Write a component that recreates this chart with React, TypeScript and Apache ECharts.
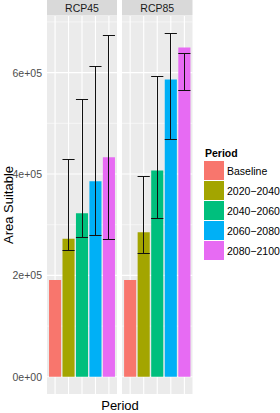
import React, { useEffect, useRef } from "react";
import * as echarts from "echarts";

const periods = ["Baseline", "2020−2040", "2040−2060", "2060−2080", "2080−2100"];
const scenarios = ["RCP45", "RCP85"];
const periodColors = ["#F8766D", "#A3A500", "#00BF7D", "#00B0F6", "#E76BF3"];

const rcp45Area = [191000, 272500, 322500, 385600, 432900];
const rcp45Lower = [null, 249000, 274000, 279000, 270500];
const rcp45Upper = [null, 429500, 547800, 613000, 674000];

const rcp85Area = [191000, 285000, 407000, 586600, 649600];
const rcp85Lower = [null, 243700, 313000, 467600, 564000];
const rcp85Upper = [null, 396000, 591700, 677800, 637800];

const yMajorTicks = [0, 200000, 400000, 600000];
const yMinorTicks = [100000, 300000, 500000, 700000];

const FONT = "'Liberation Sans', Arial, Helvetica, sans-serif";

function sci(v: number): string {
  if (v === 0) return "0e+00";
  const e = Math.floor(Math.log10(Math.abs(v)));
  const m = Math.round(v / Math.pow(10, e));
  const es = (e < 0 ? "-" : "+") + String(Math.abs(e)).padStart(2, "0");
  return `${m}e${es}`;
}

const Y_MAX_DATA = 677800;
const Y_MIN = -0.05 * Y_MAX_DATA;
const Y_MAX = 1.05 * Y_MAX_DATA;

const snap = (v: number) => Math.round(v - 0.5) + 0.5;

export default function App() {
  const ref = useRef<HTMLDivElement>(null);

  useEffect(() => {
    if (!ref.current) return;
    const chart = echarts.init(ref.current, null, { renderer: "svg" });

    const areas = [rcp45Area, rcp85Area];
    const lowers = [rcp45Lower, rcp85Lower];
    const uppers = [rcp45Upper, rcp85Upper];

    const grids = [
      { left: 47, top: 16, width: 70, height: 378 },
      { left: 122, top: 16, width: 70.5, height: 378 },
    ].map((g) => ({
      ...g,
      show: true,
      backgroundColor: "#EBEBEB",
      borderWidth: 0,
      containLabel: false,
    }));

    const xAxes = [0, 1].map((i) => ({
      type: "value",
      gridIndex: i,
      min: -0.6,
      max: periods.length - 1 + 0.6,
      show: false,
    }));

    const yAxes = [0, 1].map((i) => ({
      type: "value",
      gridIndex: i,
      min: Y_MIN,
      max: Y_MAX,
      axisLine: { show: false },
      axisTick: { show: false, customValues: yMajorTicks },
      splitLine: { show: false },
      axisLabel: {
        show: i === 0,
        customValues: yMajorTicks,
        formatter: (v: number) => sci(v),
        color: "#4D4D4D",
        fontSize: 10.5,
        fontFamily: FONT,
        margin: 5,
      },
    }));

    const series: any[] = [];

    // panel gridlines (drawn through the axes' scales)
    [0, 1].forEach((i) => {
      series.push({
        type: "custom",
        xAxisIndex: i,
        yAxisIndex: i,
        z: 1,
        silent: true,
        data: [[0, 0]],
        renderItem: (params: any, api: any) => {
          const cs = params.coordSys;
          const children: any[] = [];
          yMinorTicks.forEach((v) => {
            const y = api.coord([0, v])[1];
            children.push({
              type: "line",
              shape: { x1: cs.x, y1: y, x2: cs.x + cs.width, y2: y },
              style: { stroke: "#FFFFFF", lineWidth: 0.55 },
            });
          });
          yMajorTicks.forEach((v) => {
            const y = api.coord([0, v])[1];
            children.push({
              type: "line",
              shape: { x1: cs.x, y1: y, x2: cs.x + cs.width, y2: y },
              style: { stroke: "#FFFFFF", lineWidth: 1.1 },
            });
          });
          periods.forEach((_, k) => {
            const x = api.coord([k, 0])[0];
            children.push({
              type: "line",
              shape: { x1: x, y1: cs.y, x2: x, y2: cs.y + cs.height },
              style: { stroke: "#FFFFFF", lineWidth: 1.1 },
            });
          });
          return { type: "group", children };
        },
      });
    });

    // bars
    [0, 1].forEach((i) => {
      periods.forEach((p, k) => {
        series.push({
          type: "bar",
          name: p,
          xAxisIndex: i,
          yAxisIndex: i,
          data: [[k, areas[i][k]]],
          barWidth: 12.1,
          barGap: "-100%",
          itemStyle: { color: periodColors[k] },
          z: 2,
        });
      });
    });

    // error bars
    [0, 1].forEach((i) => {
      const data: any[] = [];
      periods.forEach((_, k) => {
        const lo = lowers[i][k];
        const hi = uppers[i][k];
        if (lo != null && hi != null) data.push([k, lo, hi]);
      });
      series.push({
        type: "custom",
        xAxisIndex: i,
        yAxisIndex: i,
        z: 3,
        silent: true,
        data,
        renderItem: (params: any, api: any) => {
          const x = api.value(0);
          const lo = api.coord([x, api.value(1)]);
          const hi = api.coord([x, api.value(2)]);
          const half = api.size([0.9, 0])[0] / 2;
          const cx = snap(lo[0]);
          const yl = snap(lo[1]);
          const yh = snap(hi[1]);
          const style = { stroke: "#111111", lineWidth: 1 };
          return {
            type: "group",
            children: [
              { type: "line", shape: { x1: cx, y1: yl, x2: cx, y2: yh }, style },
              { type: "line", shape: { x1: lo[0] - half, y1: yl, x2: lo[0] + half, y2: yl }, style },
              { type: "line", shape: { x1: hi[0] - half, y1: yh, x2: hi[0] + half, y2: yh }, style },
            ],
          };
        },
      });
    });

    const graphic: any[] = [];
    grids.forEach((g, i) => {
      graphic.push({
        type: "rect",
        shape: { x: g.left, y: 0, width: g.width, height: 15.5 },
        style: { fill: "#D9D9D9" },
        silent: true,
      });
      graphic.push({
        type: "text",
        x: g.left + g.width / 2,
        y: 8,
        style: {
          text: scenarios[i],
          fill: "#1A1A1A",
          font: `10.5px ${FONT}`,
          align: "center",
          verticalAlign: "middle",
        },
        silent: true,
      });
    });
    graphic.push({
      type: "text",
      x: 8,
      y: 205,
      rotation: Math.PI / 2,
      style: {
        text: "Area Suitable",
        fill: "#000000",
        font: `13px ${FONT}`,
        align: "center",
        verticalAlign: "middle",
      },
      silent: true,
    });
    graphic.push({
      type: "text",
      x: 120,
      y: 405,
      style: {
        text: "Period",
        fill: "#000000",
        font: `13px ${FONT}`,
        align: "center",
        verticalAlign: "middle",
      },
      silent: true,
    });
    graphic.push({
      type: "text",
      x: 205,
      y: 153,
      style: {
        text: "Period",
        fill: "#000000",
        font: `bold 10.5px ${FONT}`,
        align: "left",
        verticalAlign: "middle",
      },
      silent: true,
    });

    chart.setOption({
      animation: false,
      backgroundColor: "#FFFFFF",
      grid: grids,
      xAxis: xAxes,
      yAxis: yAxes,
      legend: {
        orient: "vertical",
        left: 204,
        top: 161,
        padding: 0,
        itemWidth: 20,
        itemHeight: 19,
        itemGap: 1,
        icon: "rect",
        data: periods,
        selectedMode: false,
        textStyle: { fontSize: 10.5, color: "#000000", fontFamily: FONT, padding: [0, 0, 0, -2] },
      },
      graphic,
      series,
    });

    return () => chart.dispose();
  }, []);

  return (
    <div
      ref={ref}
      style={{ position: "fixed", left: 0, top: 0, width: 280, height: 413 }}
    />
  );
}
